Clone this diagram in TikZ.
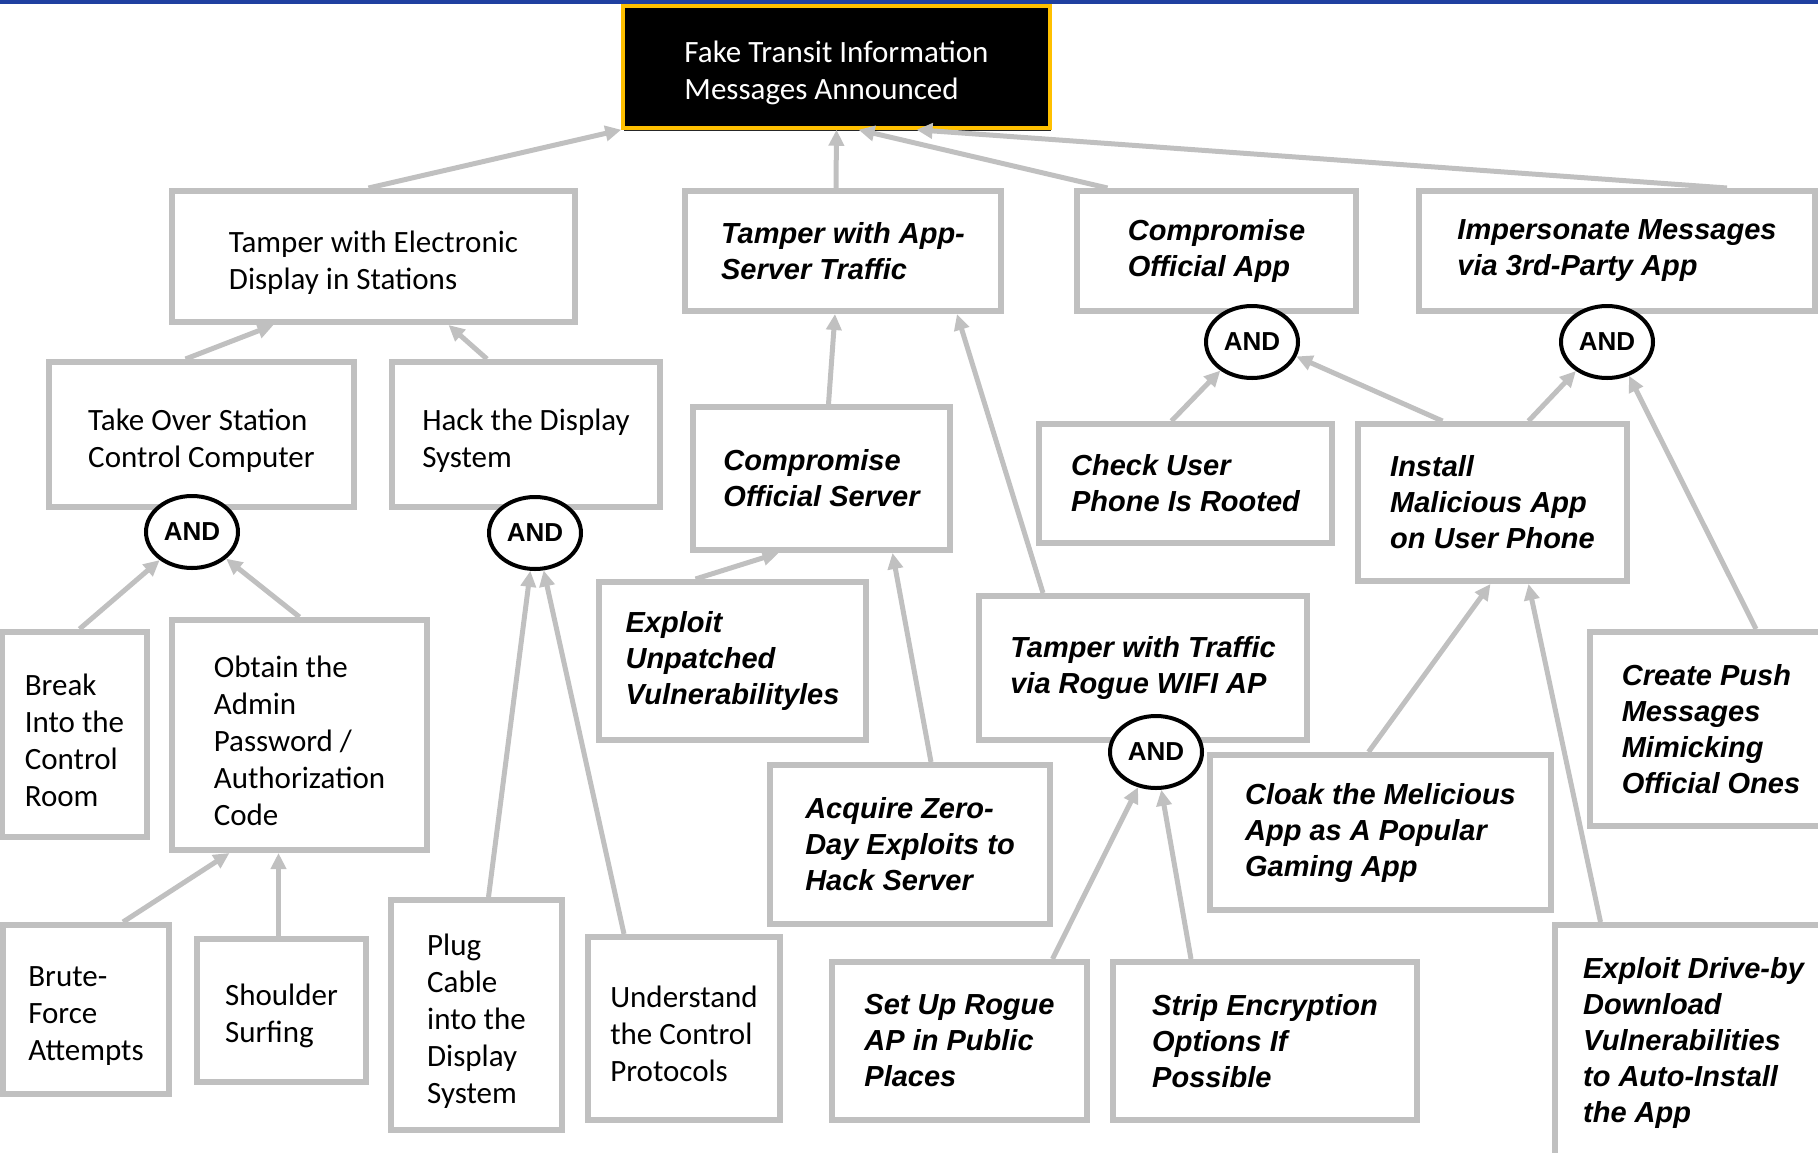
\documentclass[tikz,border=0pt]{standalone}
\usepackage{fontspec}
\setmainfont{Carlito}
\newfontfamily\bifont{Liberation Sans}
\usetikzlibrary{arrows.meta,shapes.geometric}
\definecolor{edgegray}{RGB}{192,192,192}
\definecolor{rootgold}{RGB}{255,192,0}
\definecolor{topblue}{RGB}{32,64,160}
\newcommand\firststrut{\rule{0pt}{33pt}}
\begin{document}
\begin{tikzpicture}[x=1pt,y=-1pt,
  ubox/.style={draw=edgegray, line width=6pt, fill=white, rectangle, inner sep=0pt, align=left, font=\fontsize{31}{37}\selectfont},
  ibox/.style={draw=edgegray, line width=6pt, fill=white, rectangle, inner sep=0pt, align=left, font=\bifont\fontsize{29}{36}\selectfont\bfseries\itshape},
  andg/.style={draw=black, line width=4pt, fill=white, ellipse, inner sep=0pt, minimum width=92pt, minimum height=72pt, font=\bifont\fontsize{26}{30}\selectfont\bfseries},
  link/.style={draw=edgegray, line width=5pt, -{Triangle[length=16pt,width=15pt]}},
  rootbox/.style={fill=black, draw=rootgold, line width=3.5pt, inner sep=0pt, text=white, align=left, font=\fontsize{31}{37}\selectfont},
]
\useasboundingbox (0,0) rectangle (1818,1152);
\fill[topblue] (0,0) rectangle (1818,4);
\fill[black!85] (624,10) rectangle (1051,131);
\node[rootbox, minimum width=427, minimum height=122] (root) at (836.5,67) {\firststrut Fake Transit Information\\Messages Announced};
% level 1
\node[ubox, minimum width=403, minimum height=131] (T1) at (373.5,256.5) {\firststrut Tamper with Electronic\\Display in Stations};
\node[ibox, minimum width=316, minimum height=120] (T2) at (843,251) {Tamper with App-\\Server Traffic};
\node[ibox, minimum width=279, minimum height=120] (T3) at (1216.5,251) {Compromise\\Official App};
\node[ibox, minimum width=396, minimum height=120] (T4) at (1617,251) {Impersonate Messages\\via 3rd-Party App};
% level 2
\node[ubox, minimum width=305, minimum height=145] (A1) at (201.5,434.5) {\firststrut Take Over Station\\Control Computer};
\node[ubox, minimum width=268, minimum height=145] (A2) at (526,434.5) {\firststrut Hack the Display\\System};
\node[ibox, minimum width=257, minimum height=143] (B1) at (821.5,478.5) {Compromise\\Official Server};
\node[ibox, minimum width=293, minimum height=119] (C1) at (1185.5,483.5) {Check User\\Phone Is Rooted};
\node[ibox, minimum width=269, minimum height=157] (D1) at (1492.5,502.5) {Install\\Malicious App\\on User Phone};
% level 3
\node[ubox, minimum width=145, minimum height=205] (BR) at (74.5,734.5) {\firststrut Break\\Into the\\Control\\Room};
\node[ubox, minimum width=255, minimum height=230] (OB) at (299.5,735) {\firststrut Obtain the\\Admin\\Password /\\Authorization\\Code};
\node[ibox, minimum width=267, minimum height=158] (EU) at (732.5,661) {Exploit\\Unpatched\\Vulnerabilityles};
\node[ibox, minimum width=328, minimum height=144] (TR) at (1143,668) {Tamper with Traffic\\via Rogue WIFI AP};
\node[ibox, minimum width=280, minimum height=159] (AZ) at (910,844.5) {Acquire Zero-\\Day Exploits to\\Hack Server};
\node[ibox, minimum width=341, minimum height=155] (CL) at (1380.5,832.5) {Cloak the Melicious\\App as A Popular\\Gaming App};
\node[ibox, minimum width=242, minimum height=194] (CP) at (1711,729) {Create Push\\Messages\\Mimicking\\Official Ones};
% level 4
\node[ubox, minimum width=166, minimum height=169] (BF) at (86,1009.5) {\firststrut Brute-\\Force\\Attempts};
\node[ubox, minimum width=169, minimum height=143] (SS) at (281.5,1010.5) {\firststrut Shoulder\\Surfing};
\node[ubox, minimum width=171, minimum height=230] (PL) at (476.5,1015) {\firststrut Plug\\Cable\\into the\\Display\\System};
\node[ubox, minimum width=192, minimum height=183] (UN) at (684,1028.5) {\firststrut Understand\\the Control\\Protocols};
\node[ibox, minimum width=255, minimum height=158] (SU) at (959.5,1041) {Set Up Rogue\\AP in Public\\Places};
\node[ibox, minimum width=304, minimum height=158] (SE) at (1265,1041) {Strip Encryption\\Options If\\Possible};
\node[ibox, minimum width=277, minimum height=235] (ED) at (1693.5,1042.5) {Exploit Drive-by\\Download\\Vulnerabilities\\to Auto-Install\\the App};
% AND gates
\node[andg] (and1) at (192,532) {AND};
\node[andg] (and2) at (535,533) {AND};
\node[andg] (and3) at (1252,342) {AND};
\node[andg] (and4) at (1607,342) {AND};
\node[andg] (andT) at (1156,752) {AND};
% connectors
\draw[link] ([xshift=-5]T1.north) -- (root.south west);
\draw[link] ([xshift=-7]T2.north) -- (root.south);
\draw[link] ([xshift=-109]T3.north) -- ([xshift=22]root.south);
\draw[link] ([xshift=110]T4.north) -- ([xshift=80]root.south);
\draw[link] ([xshift=-16]A1.north) -- ([xshift=-100]T1.south);
\draw[link] ([xshift=-39]A2.north) -- ([xshift=75]T1.south);
\draw[link] ([xshift=7]B1.north) -- ([xshift=-8]T2.south);
\draw[link] ([xshift=-100]TR.north) -- ([xshift=114]T2.south);
\draw[link] ([xshift=-14]C1.north) -- (and3.222);
\draw[link] ([xshift=-50]D1.north) -- (and3.342);
\draw[link] ([xshift=36]D1.north) -- (and4.223);
\draw[link] ([xshift=45]CP.north) -- (and4.303);
\draw[link] ([xshift=5]BR.north) -- (and1.221);
\draw[link] (OB.north) -- (and1.322);
\draw[link] ([xshift=12]PL.north) -- (and2.263);
\draw[link] ([xshift=-60]UN.north) -- (and2.283);
\draw[link] ([xshift=-37]EU.north) -- ([xshift=-43]B1.south);
\draw[link] ([xshift=21]AZ.north) -- ([xshift=71]B1.south);
\draw[link] ([xshift=93]SU.north) -- (andT.243);
\draw[link] ([xshift=-74]SE.north) -- (andT.278);
\draw[link] ([xshift=-12]CL.north) -- ([xshift=-2]D1.south);
\draw[link] ([xshift=-93]ED.north) -- ([xshift=36]D1.south);
\draw[link] ([xshift=37]BF.north) -- ([xshift=-70]OB.south);
\draw[link] ([xshift=-3]SS.north) -- ([xshift=-21]OB.south);
\end{tikzpicture}
\end{document}
